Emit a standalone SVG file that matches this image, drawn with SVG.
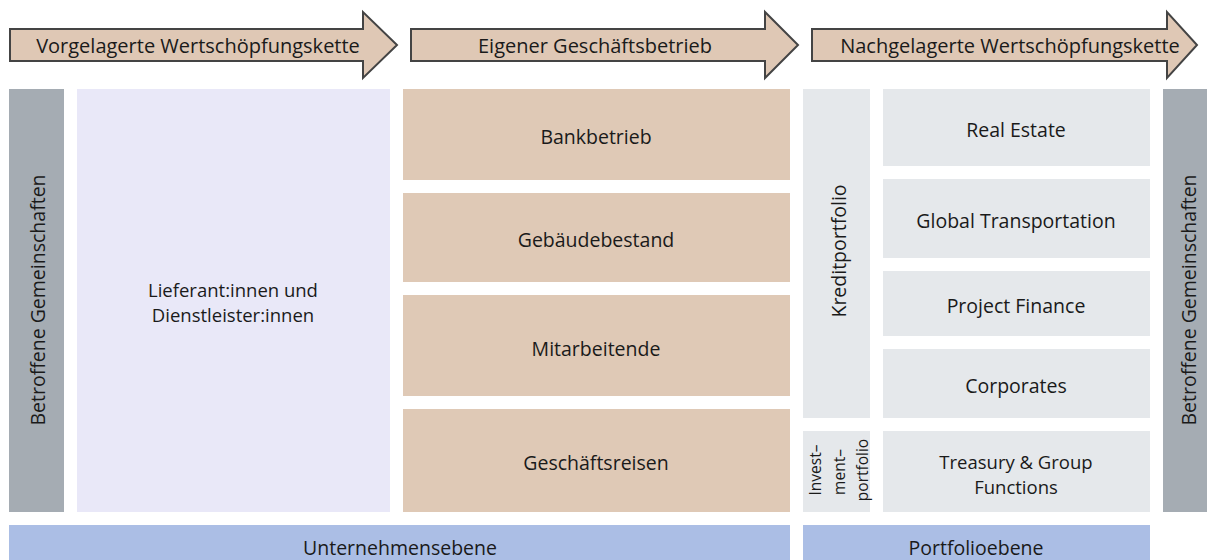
<svg xmlns="http://www.w3.org/2000/svg" width="1207" height="560" viewBox="0 0 1207 560">
<style>
text{font-family:"Open Sans","Noto Sans","DejaVu Sans",sans-serif;fill:#1a1a1a;font-size:19.5px;text-anchor:middle;dominant-baseline:central}
.arrow{fill:#dfc8b5;stroke:#444;stroke-width:2;stroke-linejoin:miter}
.at{font-size:20px}
.two{font-size:18.5px}
.tan{fill:#dfc9b6}
.lav{fill:#e9e8f8}
.gray{fill:#a5acb3}
.lg{fill:#e5e8eb}
.blue{fill:#abbee5}
.sm{font-size:15.5px}
</style>
<rect width="1207" height="560" fill="#fff"/>
<g id="arrow1"><path class="arrow" d="M10,29 H363 V12 L397,45 L363,78 V61 H10 Z"/><text class="at" x="198" y="45">Vorgelagerte Wertschöpfungskette</text></g>
<g id="arrow2"><path class="arrow" d="M411,29 H765 V12 L798,45 L765,78 V61 H411 Z"/><text class="at" x="595" y="45">Eigener Geschäftsbetrieb</text></g>
<g id="arrow3"><path class="arrow" d="M812,29 H1167 V12 L1197,45 L1167,78 V61 H812 Z"/><text class="at" x="1010" y="45">Nachgelagerte Wertschöpfungskette</text></g>
<g id="gem-left"><rect class="gray" x="9" y="89" width="55" height="423"/><text transform="translate(37,300) rotate(-90)">Betroffene Gemeinschaften</text></g>
<g id="lieferanten"><rect class="lav" x="77" y="89" width="313" height="423"/><text class="two" x="233" y="289">Lieferant:innen und</text><text class="two" x="233" y="314">Dienstleister:innen</text></g>
<g id="bankbetrieb"><rect class="tan" x="403" y="89" width="387" height="91"/><text x="596" y="136">Bankbetrieb</text></g>
<g id="gebaeude"><rect class="tan" x="403" y="193" width="387" height="89"/><text x="596" y="239">Gebäudebestand</text></g>
<g id="mitarbeitende"><rect class="tan" x="403" y="295" width="387" height="101"/><text x="596" y="348">Mitarbeitende</text></g>
<g id="reisen"><rect class="tan" x="403" y="409" width="387" height="103"/><text x="596" y="462">Geschäftsreisen</text></g>
<g id="kredit"><rect class="lg" x="803" y="89" width="67" height="329"/><text transform="translate(838,251) rotate(-90)">Kreditportfolio</text></g>
<g id="invest"><rect class="lg" x="803" y="431" width="67" height="81"/><text class="sm" transform="translate(815,470) rotate(-90)">Invest–</text><text class="sm" transform="translate(839,472) rotate(-90)">ment–</text><text class="sm" transform="translate(862,470) rotate(-90)">portfolio</text></g>
<g id="realestate"><rect class="lg" x="883" y="89" width="267" height="77"/><text x="1016" y="129">Real Estate</text></g>
<g id="transport"><rect class="lg" x="883" y="179" width="267" height="79"/><text x="1016" y="220">Global Transportation</text></g>
<g id="project"><rect class="lg" x="883" y="271" width="267" height="65"/><text x="1016" y="305">Project Finance</text></g>
<g id="corporates"><rect class="lg" x="883" y="349" width="267" height="69"/><text x="1016" y="385">Corporates</text></g>
<g id="treasury"><rect class="lg" x="883" y="431" width="267" height="81"/><text class="two" x="1016" y="461">Treasury &amp; Group</text><text class="two" x="1016" y="486">Functions</text></g>
<g id="gem-right"><rect class="gray" x="1163" y="89" width="44" height="423"/><text transform="translate(1188,300) rotate(-90)">Betroffene Gemeinschaften</text></g>
<g id="unternehmen"><rect class="blue" x="9" y="525" width="781" height="35"/><text x="400" y="547">Unternehmensebene</text></g>
<g id="portfolio"><rect class="blue" x="803" y="525" width="347" height="35"/><text x="976" y="547">Portfolioebene</text></g>
<g id="connectors"/>
</svg>
